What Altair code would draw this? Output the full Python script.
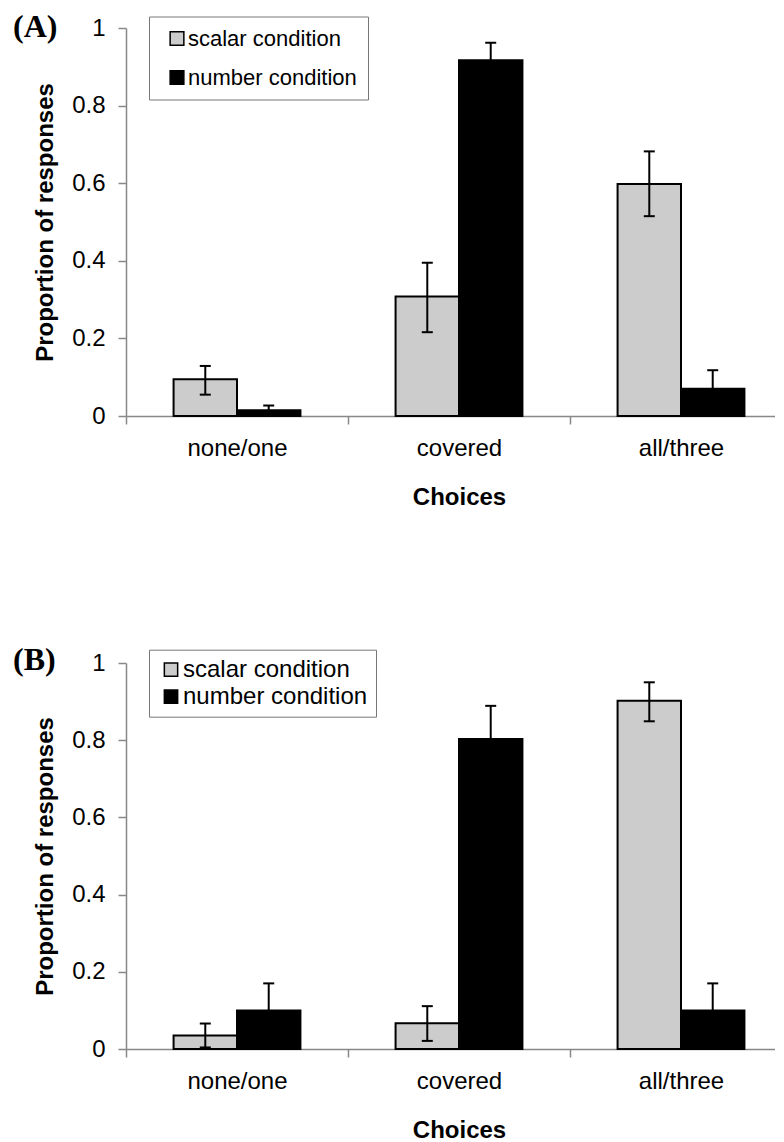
import altair as alt
import pandas as pd

choices = ["none/one", "covered", "all/three"]
conditions = ["scalar condition", "number condition"]

# Panel A
a_scalar = [0.095, 0.308, 0.598]
a_scalar_lo = [0.055, 0.216, 0.515]
a_scalar_hi = [0.129, 0.395, 0.682]
a_number = [0.015, 0.917, 0.070]
a_number_lo = [0.003, 0.872, 0.022]
a_number_hi = [0.027, 0.962, 0.118]

# Panel B
b_scalar = [0.035, 0.067, 0.902]
b_scalar_lo = [0.004, 0.021, 0.849]
b_scalar_hi = [0.066, 0.111, 0.950]
b_number = [0.100, 0.803, 0.100]
b_number_lo = [0.030, 0.717, 0.030]
b_number_hi = [0.170, 0.889, 0.170]

y_ticks = [0, 0.2, 0.4, 0.6, 0.8, 1]
FONT = "Liberation Sans"


def panel(label, sv, slo, shi, nv, nlo, nhi, height, leg, title_dy):
    df = pd.DataFrame({
        "choice": choices * 2,
        "condition": [conditions[0]] * 3 + [conditions[1]] * 3,
        "value": sv + nv,
        "lo": slo + nlo,
        "hi": shi + nhi,
    })
    x = alt.X(
        "choice:N", sort=choices, title="Choices",
        scale=alt.Scale(paddingInner=0, paddingOuter=0),
        axis=alt.Axis(labelAngle=0, tickBand="extent", tickSize=8,
                      labelPadding=12, titlePadding=25),
    )
    xo = alt.XOffset("condition:N", sort=conditions,
                     scale=alt.Scale(paddingInner=0, paddingOuter=0.75))
    yscale = alt.Scale(domain=[0, 1], nice=False)
    ytitle = "Proportion of responses"
    yaxis = alt.Axis(values=y_ticks, format="~g", grid=False, tickSize=8,
                     labelPadding=13, titlePadding=14)

    bars = alt.Chart(df).mark_bar(stroke="black", strokeWidth=2).encode(
        x=x, xOffset=xo,
        y=alt.Y("value:Q", scale=yscale, axis=yaxis, title=ytitle),
        color=alt.Color(
            "condition:N", sort=conditions,
            scale=alt.Scale(domain=conditions, range=["#cccccc", "#000000"]),
            legend=alt.Legend(
                title=None, orient="none", legendX=leg["x"], legendY=leg["y"],
                padding=leg["padding"], symbolOffset=leg["symbolOffset"],
                rowPadding=leg["rowPadding"], labelFontSize=leg["fontSize"],
                labelFont=FONT, labelColor="black", labelLimit=400,
                symbolType="square", symbolSize=leg["symbolSize"],
                symbolStrokeColor="black", symbolStrokeWidth=1.5,
                symbolOpacity=1, strokeColor="#777777", fillColor="white",
                labelOffset=leg["labelOffset"],
            ),
        ),
    )
    rules = alt.Chart(df).mark_rule(color="black", strokeWidth=2).encode(
        x=x, xOffset=xo,
        y=alt.Y("lo:Q", scale=yscale, title=ytitle), y2="hi:Q",
    )
    caps_hi = alt.Chart(df).mark_tick(color="black", thickness=2, size=11, opacity=1).encode(
        x=x, xOffset=xo, y=alt.Y("hi:Q", scale=yscale, title=ytitle),
    )
    caps_lo = alt.Chart(df).mark_tick(color="black", thickness=2, size=11, opacity=1).encode(
        x=x, xOffset=xo, y=alt.Y("lo:Q", scale=yscale, title=ytitle),
    )
    return alt.layer(bars, rules, caps_hi, caps_lo).properties(
        width=666, height=height,
        title=alt.TitleParams(
            text=label, font="Liberation Serif", fontSize=32, fontWeight="bold",
            anchor="start", frame="group", dx=-113, dy=title_dy,
            baseline="alphabetic", offset=0, color="black",
        ),
    )


leg_a = {"x": 23, "y": -11.5, "padding": 11, "symbolOffset": 6, "rowPadding": 17,
         "fontSize": 22, "symbolSize": 188, "labelOffset": 0}
leg_b = {"x": 23, "y": -13.3, "padding": 8, "symbolOffset": 2, "rowPadding": 3,
         "fontSize": 24, "symbolSize": 177, "labelOffset": 0}

chart_a = panel("(A)", a_scalar, a_scalar_lo, a_scalar_hi,
                a_number, a_number_lo, a_number_hi, 388, leg_a, 52.5)
chart_b = panel("(B)", b_scalar, b_scalar_lo, b_scalar_hi,
                b_number, b_number_lo, b_number_hi, 386, leg_b, 52.5)

chart = alt.vconcat(chart_a, chart_b, spacing=134).resolve_scale(
    color="independent"
).resolve_legend(color="independent").properties(
    padding={"left": 5, "top": 2, "right": -18, "bottom": 0}
).configure_view(stroke=None).configure_axis(
    labelFont=FONT, titleFont=FONT, labelFontSize=24, titleFontSize=24,
    titleFontWeight="bold", labelColor="black", titleColor="black",
    domainColor="#888888", tickColor="#888888", domainWidth=1.5, tickWidth=1.5,
)

chart.save("out.html", embed_options={"renderer": "svg", "actions": False})
